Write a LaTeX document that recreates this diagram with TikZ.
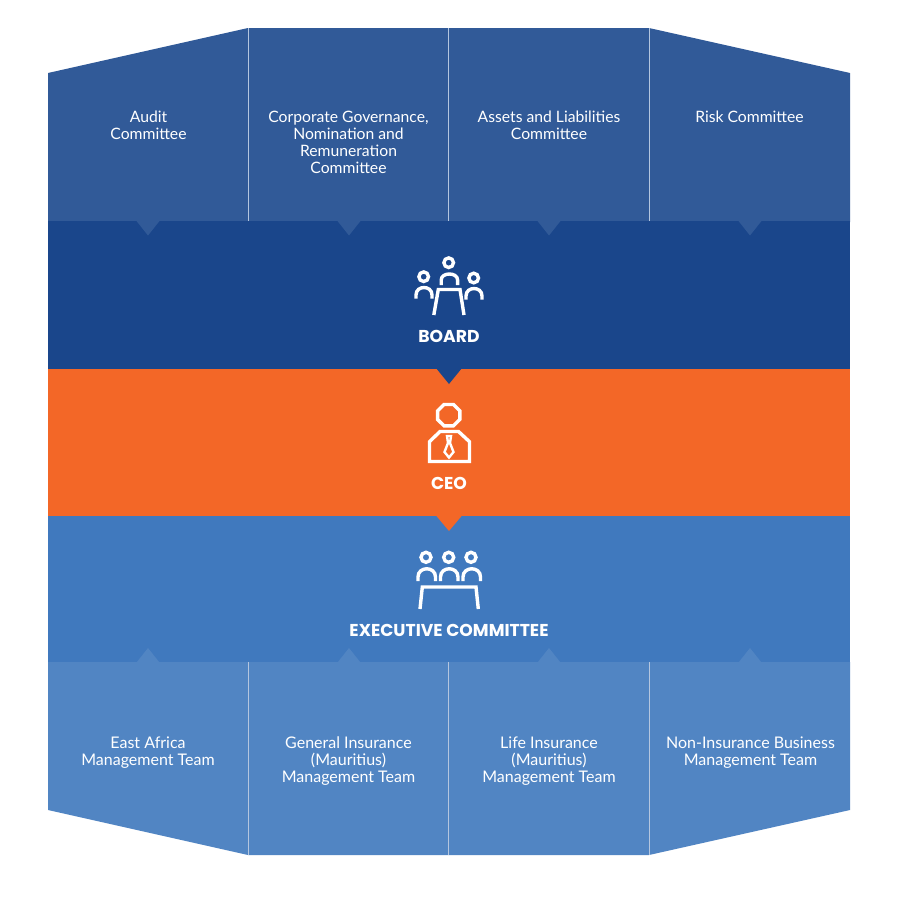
\documentclass[tikz,border=0pt]{standalone}
\usepackage{fontspec}
\setmainfont{Lato}
\newfontfamily\headfont{Poppins}
\definecolor{topc}{HTML}{315A98}
\definecolor{boardc}{HTML}{1A468B}
\definecolor{ceoc}{HTML}{F36727}
\definecolor{execc}{HTML}{4079BE}
\definecolor{botc}{HTML}{5185C3}
\definecolor{sepc}{HTML}{B4C6DF}
\tikzset{
  panel/.style={align=center,text=white,font=\fontsize{15.7}{17}\selectfont,anchor=north,inner sep=0pt},
  lowpanel/.style={panel,font=\fontsize{16}{17}\selectfont},
  head/.style={text=white,font=\headfont\fontsize{17.2}{17}\bfseries\selectfont,inner sep=0pt},
  icon/.style={draw=white,line width=3.4pt,line join=miter,fill=none},
  sep/.style={draw=sepc,line width=0.9pt}
}
\begin{document}
\begin{tikzpicture}[x=1pt,y=-1pt]
\useasboundingbox[fill=white] (0,0) rectangle (900,900);
% top panel
\fill[topc] (48,73) -- (248,28) -- (649,28) -- (850,73) -- (850,222) -- (48,222) -- cycle;
\draw[sep] (248.5,28) -- (248.5,221);
\draw[sep] (448.5,28) -- (448.5,221);
\draw[sep] (649.5,28) -- (649.5,221);
% bands
\fill[boardc] (48,221) rectangle (850,368.5);
\fill[ceoc] (48,368.5) rectangle (850,516);
\fill[execc] (48,516) rectangle (850,663);
% bottom panel
\fill[botc] (48,662) -- (850,662) -- (850,810) -- (649,855) -- (248,855) -- (48,810) -- cycle;
\draw[sep] (248.5,662) -- (248.5,855);
\draw[sep] (448.5,662) -- (448.5,855);
\draw[sep] (649.5,662) -- (649.5,855);
% pointers
\foreach \x in {148,349,549,750}{
  \fill[topc] (\x-11.5,221) -- (\x+11.5,221) -- (\x,235.5) -- cycle;
  \fill[botc] (\x-11.5,662.5) -- (\x+11.5,662.5) -- (\x,648) -- cycle;
}
\fill[boardc] (436,368) -- (462,368) -- (449,384) -- cycle;
\fill[ceoc] (436,515.5) -- (462,515.5) -- (449,531) -- cycle;
% panel texts
\node[panel] (t1) at (148.5,110.5) {Audit\\Committee};
\node[panel] (t2) at (348.5,110.5) {Corporate Governance,\\Nomination and\\Remuneration\\Committee};
\node[panel] (t3) at (549,110.5) {Assets and Liabilities\\Committee};
\node[panel] (t4) at (749.5,110.5) {Risk Committee};
\node[lowpanel] (b1) at (148,736.5) {East Africa\\Management Team};
\node[lowpanel] (b2) at (348.5,736.5) {General Insurance\\(Mauritius)\\Management Team};
\node[lowpanel] (b3) at (549,736.5) {Life Insurance\\(Mauritius)\\Management Team};
\node[lowpanel] (b4) at (750.5,736.5) {Non-Insurance Business\\Management Team};
% headings
\node[head] (hb) at (449,336) {BOARD};
\node[head] (hc) at (449,483) {CEO};
\node[head] (he) at (449,630) {EXECUTIVE COMMITTEE};
% board icon
\draw[icon] (448.7,262.7) circle (4.8);
\draw[icon] (423.7,276.7) circle (4.8);
\draw[icon] (473.7,278) circle (4.8);
\draw[icon] (441.2,285) -- (441.2,280) .. controls (441.2,272) and (457.6,272) .. (457.6,280) -- (457.6,285);
\draw[icon] (416,298.5) -- (416,295) .. controls (416,285) and (432,285) .. (432,295) -- (432,298.5);
\draw[icon] (466,299.5) -- (466,296) .. controls (466,286) and (482,286) .. (482,296) -- (482,299.5);
\draw[icon] (433.8,315) -- (438.3,289.5) -- (460,289.5) -- (464,315);
% ceo icon
\draw[icon] (444,404.5) -- (453.5,404.5) -- (459.8,410.8) -- (459.8,419.5) -- (453.5,425.8) -- (444,425.8) -- (437.6,419.5) -- (437.6,410.8) -- cycle;
\draw[icon] (429.5,461.5) -- (429.5,441.7) -- (440,431.5) -- (458.5,431.5) -- (469.5,441.7) -- (469.5,461.5) -- cycle;
\draw[icon,line width=2.4pt] (447,436) -- (451,436) -- (450,443) -- (453.5,452) -- (449,457.5) -- (444.5,452) -- (448,443) -- cycle;
% exec icon
\draw[icon] (426,557.3) circle (5);
\draw[icon] (448.7,557.3) circle (5);
\draw[icon] (471,557.3) circle (5);
\draw[icon] (418,581) -- (418,577) .. controls (418,566) and (435.5,566) .. (435.5,577) -- (435.5,581);
\draw[icon] (440.5,581) -- (440.5,577) .. controls (440.5,566) and (458,566) .. (458,577) -- (458,581);
\draw[icon] (463,581) -- (463,577) .. controls (463,566) and (480.5,566) .. (480.5,577) -- (480.5,581);
\draw[icon] (420,609) -- (422.3,587) -- (476,587) -- (478.3,609);
\end{tikzpicture}
\end{document}
